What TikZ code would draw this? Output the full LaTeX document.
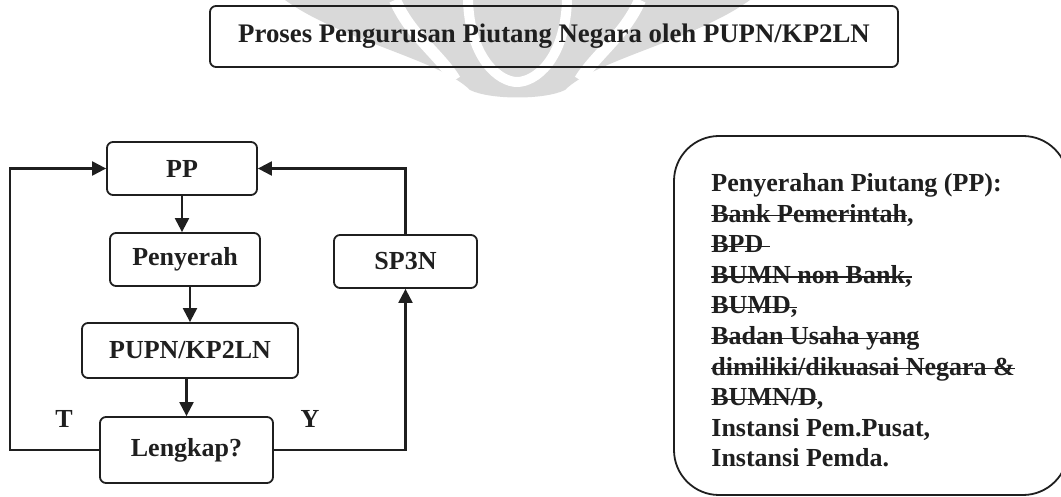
\documentclass[tikz,border=0pt]{standalone}
\usepackage{fontspec}
\setmainfont{Liberation Serif}
\usetikzlibrary{arrows.meta}

\newcommand{\strk}[1]{\setbox0\hbox{#1}\rlap{\raisebox{0.22em}{\rule{\wd0}{0.6pt}}}\box0}

\tikzset{
  flowbox/.style={draw, rounded corners=3pt, line width=0.9pt, inner sep=0pt,
    font=\fontsize{13}{15}\selectfont\bfseries},
  flowarrow/.style={line width=1.1pt, -{Triangle[length=7pt,width=7pt]}},
  lbl/.style={font=\fontsize{13}{15.3}\selectfont\bfseries, inner sep=0pt},
}

\begin{document}
\begin{tikzpicture}[x=0.5pt,y=-0.5pt,color=black!88]
\useasboundingbox (0,0) rectangle (1061,497);

% Watermark
\fill[black!15] (285,0) .. controls (340,40) and (440,60) .. (470,90)
  .. controls (490,100) and (545,100) .. (565,90)
  .. controls (595,60) and (695,40) .. (750,0) -- cycle;
\draw[white, line width=6pt] (395,0) .. controls (410,35) and (440,55) .. (455,80);
\draw[white, line width=6pt] (640,0) .. controls (625,35) and (595,55) .. (580,80);
\draw[white, line width=5pt] (468,0) .. controls (470,60) and (500,82) .. (517,82)
  .. controls (535,82) and (565,60) .. (567,0);

% Title
\node[flowbox, font=\fontsize{13.4}{15}\selectfont\bfseries, minimum width=344pt,
  minimum height=30.5pt] (title) at (554,36.5)
  {Proses Pengurusan Piutang Negara oleh PUPN/KP2LN};

% Flow
\node[flowbox, minimum width=75pt, minimum height=26.5pt] (pp) at (182,168.5) {PP};
\node[flowbox, minimum width=75pt, minimum height=26.5pt] (penyerah) at (185,259.5) {Penyerah};
\node[flowbox, minimum width=108pt, minimum height=27.5pt] (pupn) at (190,350.5) {PUPN/KP2LN};
\node[flowbox, minimum width=86.5pt, minimum height=33pt] (lengkap) at (186.5,450) {Lengkap?};
\node[flowbox, minimum width=71.5pt, minimum height=26.5pt] (sp3n) at (405.5,261.5) {SP3N};
\node[lbl] (tlabel) at (64,419) {T};
\node[lbl] (ylabel) at (310,419) {Y};
\coordinate (leftrail) at (10,0);

\draw[flowarrow] (pp.south) -- (pp.south |- penyerah.north);
\draw[flowarrow] (penyerah.south -| pupn.north) -- (pupn.north);
\draw[flowarrow] (pupn.south -| lengkap.north) -- (lengkap.north);
\draw[flowarrow] (lengkap.west) -- (lengkap.west -| leftrail) |- (pp.west);
\draw[flowarrow] (lengkap.east) -| (sp3n.south);
\draw[flowarrow] (sp3n.north) |- (pp.east);

% Penyerahan Piutang
\node[draw, line width=0.9pt, rounded corners=22.5pt, minimum width=197pt,
  minimum height=179.5pt] (ppbox) at (871,315.5) {};
\node[lbl, anchor=north west, align=left] (pplist) at (711,173) {%
  Penyerahan Piutang (PP):\\
  \strk{Bank Pemerintah},\\
  \strk{BPD\ }\\
  \strk{BUMN non Bank,}\\
  \strk{BUMD,}\\
  \strk{Badan Usaha yang}\\
  \strk{dimiliki/dikuasai Negara \&}\\
  \strk{BUMN/D},\\
  Instansi Pem.Pusat,\\
  Instansi Pemda.};
\end{tikzpicture}
\end{document}
